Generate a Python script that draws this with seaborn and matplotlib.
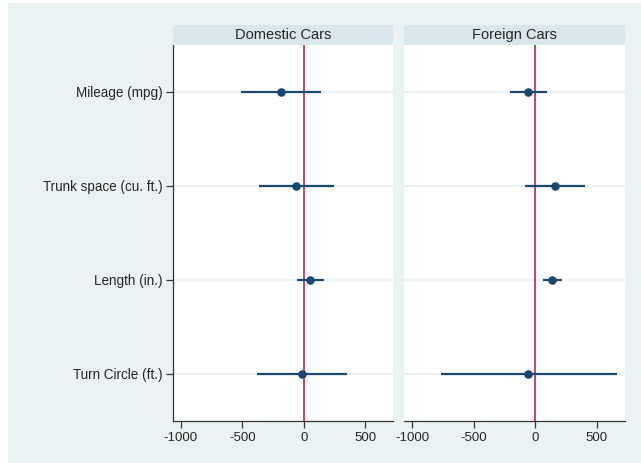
import matplotlib
matplotlib.use("Agg")
import matplotlib.pyplot as plt
import seaborn as sns
import pandas as pd
from matplotlib.patches import Rectangle

# Coefficient estimates with 95% confidence intervals, by car origin
variables = ["Mileage (mpg)", "Trunk space (cu. ft.)", "Length (in.)", "Turn Circle (ft.)"]
panels = ["Domestic Cars", "Foreign Cars"]

domestic_coef = [-184, -60, 55, -13]
domestic_lo = [-508, -367, -51, -383]
domestic_hi = [142, 250, 163, 354]

foreign_coef = [-57, 160, 136, -57]
foreign_lo = [-203, -84, 63, -767]
foreign_hi = [95, 404, 215, 662]

x_ticks = [-1000, -500, 0, 500]

frames = []
for panel, coef, lo, hi in [
    ("Domestic Cars", domestic_coef, domestic_lo, domestic_hi),
    ("Foreign Cars", foreign_coef, foreign_lo, foreign_hi),
]:
    frames.append(pd.DataFrame({"panel": panel, "variable": variables,
                                "pos": range(len(variables)),
                                "coef": coef, "lo": lo, "hi": hi}))
df = pd.concat(frames, ignore_index=True)

sns.set_theme(style="white")
plt.rcParams["font.family"] = ["Liberation Sans", "DejaVu Sans"]

BG = "#eaf2f3"
STRIP = "#d9e6eb"
NAVY = "#1a476f"
RED = "#b5123a"
AXIS = "#333333"

W, H = 641, 463
fig = plt.figure(figsize=(W / 100, H / 100), dpi=100)
fig.patch.set_facecolor("white")
fig.patches.append(Rectangle((8 / W, 0), 1 - 8 / W, 1 - 3 / H,
                             transform=fig.transFigure, facecolor=BG,
                             edgecolor="none", zorder=-10))

bottom = 1 - 421 / H
height = 376 / H
lefts = [172.7 / W, 404.3 / W]
width = 220.7 / W
strip_h = 20 / H

for i, panel in enumerate(panels):
    ax = fig.add_axes([lefts[i], bottom, width, height])
    ax.set_facecolor("white")
    sub = df[df["panel"] == panel]

    # light gridlines at each coefficient
    for p in sub["pos"]:
        ax.axhline(p, color=BG, lw=1.5, zorder=0)
    ax.axvline(0, color=RED, lw=1.1, zorder=1)
    ax.hlines(sub["pos"], sub["lo"], sub["hi"], color=NAVY, lw=1.6, zorder=2)
    sns.scatterplot(data=sub, x="coef", y="pos", ax=ax, color=NAVY, s=38,
                    edgecolor=NAVY, linewidth=0, zorder=3, legend=False)

    ax.set_xlim(-1066, 730)
    ax.set_ylim(len(variables) - 0.5, -0.5)
    ax.set_xticks(x_ticks)
    ax.set_xticklabels([str(t) for t in x_ticks], fontsize=9.5)
    ax.set_xlabel("")
    ax.set_ylabel("")
    ax.tick_params(axis="x", direction="out", length=5, width=0.9,
                   color=AXIS, pad=3, bottom=True)

    for s in ["top", "right"]:
        ax.spines[s].set_visible(False)
    ax.spines["bottom"].set_color(AXIS)
    ax.spines["bottom"].set_linewidth(0.9)
    if i == 0:
        ax.set_yticks(range(len(variables)))
        ax.set_yticklabels(variables, fontsize=9.75)
        ax.tick_params(axis="y", direction="out", length=5, width=0.9,
                       color=AXIS, pad=2, left=True)
        ax.spines["left"].set_color(AXIS)
        ax.spines["left"].set_linewidth(0.9)
    else:
        ax.set_yticks([])
        ax.spines["left"].set_visible(False)

    sax = fig.add_axes([lefts[i], bottom + height, width, strip_h])
    sax.set_facecolor(STRIP)
    sax.set_xticks([])
    sax.set_yticks([])
    for s in sax.spines.values():
        s.set_visible(False)
    sax.text(0.5, 0.5, panel, ha="center", va="center", fontsize=10.5,
             transform=sax.transAxes)

fig.savefig("out.png", dpi=100, facecolor=fig.get_facecolor())
